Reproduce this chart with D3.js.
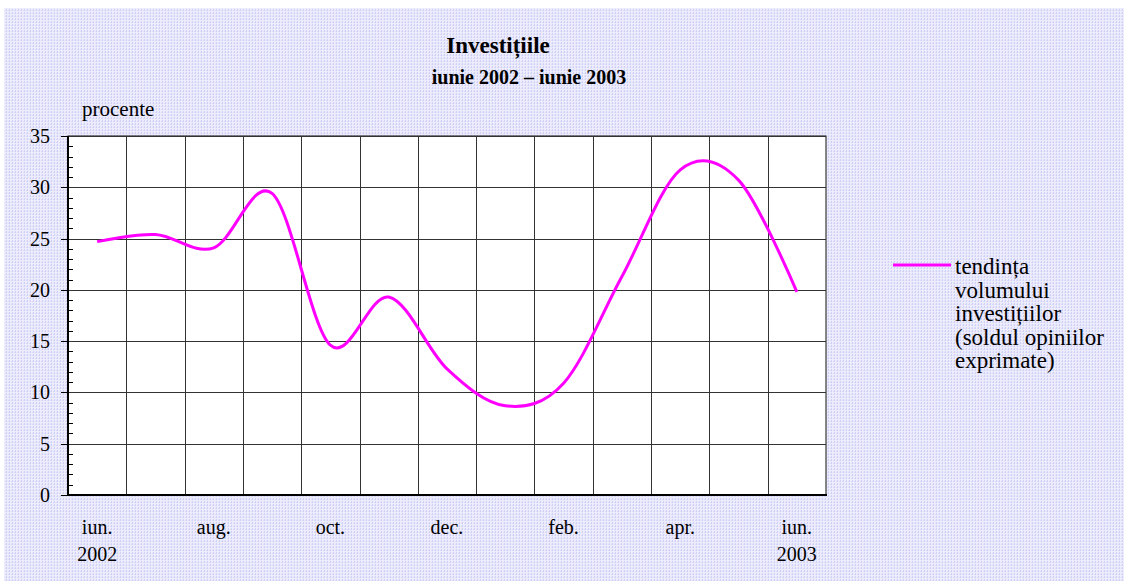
<!DOCTYPE html>
<html>
<head>
<meta charset="utf-8">
<script src="https://cdn.jsdelivr.net/npm/d3@7"></script>
<style>
  body { margin: 0; background: #fff; }
  svg { display: block; font-family: "Liberation Serif", "Times New Roman", serif; }
</style>
</head>
<body>
<script>
// data
const months = ["iun.", "iul.", "aug.", "sep.", "oct.", "nov.", "dec.", "ian.", "feb.", "mar.", "apr.", "mai", "iun."];
const years = ["2002", "", "", "", "", "", "", "", "", "", "", "", "2003"];
const values = [24.7, 25.4, 24.1, 29.4, 14.6, 19.3, 12.3, 8.7, 10.9, 21.3, 31.7, 30.7, 19.8];
const yTicks = [0, 5, 10, 15, 20, 25, 30, 35];
const legendLines = ["tendința", "volumului", "investițiilor", "(soldul opiniilor", "exprimate)"];
const labelEvery = 2;

const width = 1127;
const height = 584;

const pl = 68;
const pr = 826;
const pt = 136;
const pb = 495;
const fs = "20px";

const svg = d3.select("body").append("svg")
    .attr("width", width)
    .attr("height", height);

// dotted lavender background
const defs = svg.append("defs");
const pat = defs.append("pattern")
    .attr("id", "dots")
    .attr("width", 3)
    .attr("height", 3)
    .attr("patternUnits", "userSpaceOnUse");
pat.append("rect").attr("width", 3).attr("height", 3).attr("fill", "#ececfd");
pat.append("rect").attr("width", 1).attr("height", 2).attr("fill", "#cfd0f5");
pat.append("rect").attr("x", 2).attr("y", 1).attr("width", 1).attr("height", 1).attr("fill", "#dcdcf8");

svg.append("rect")
    .attr("x", 4).attr("y", 8)
    .attr("width", width - 7).attr("height", height - 11)
    .attr("fill", "url(#dots)");

const x = d3.scaleBand().domain(d3.range(months.length)).range([pl, pr]).padding(0);
const y = d3.scaleLinear().domain([0, 35]).range([pb, pt]);
const bw = x.bandwidth();

// plot area
svg.append("rect")
    .attr("x", pl).attr("y", pt)
    .attr("width", pr - pl).attr("height", pb - pt)
    .attr("fill", "#fff")
    .attr("stroke", "#111")
    .attr("stroke-width", 1);

// horizontal gridlines
svg.append("g")
    .selectAll("line")
    .data(yTicks.filter(d => d > 0))
    .join("line")
    .attr("x1", pl).attr("x2", pr)
    .attr("y1", d => Math.round(y(d)) + 0.5)
    .attr("y2", d => Math.round(y(d)) + 0.5)
    .attr("stroke", "#333");

// vertical gridlines at category boundaries
svg.append("g")
    .selectAll("line")
    .data(d3.range(1, months.length))
    .join("line")
    .attr("x1", d => Math.round(x(d)) + 0.5)
    .attr("x2", d => Math.round(x(d)) + 0.5)
    .attr("y1", pt).attr("y2", pb)
    .attr("stroke", "#333");

// y axis: major ticks outward, minor ticks inward
const yAxis = svg.append("g").attr("transform", `translate(${pl},0)`);
yAxis.selectAll("line.minor")
    .data(d3.range(0, 36).filter(d => d % 5 !== 0))
    .join("line")
    .attr("class", "minor")
    .attr("x1", 0).attr("x2", 5)
    .attr("y1", d => Math.round(y(d)) + 0.5)
    .attr("y2", d => Math.round(y(d)) + 0.5)
    .attr("stroke", "#000");
yAxis.selectAll("line.major")
    .data(yTicks)
    .join("line")
    .attr("class", "major")
    .attr("x1", -7).attr("x2", 0)
    .attr("y1", d => Math.round(y(d)) + 0.5)
    .attr("y2", d => Math.round(y(d)) + 0.5)
    .attr("stroke", "#000");
yAxis.selectAll("text")
    .data(yTicks)
    .join("text")
    .attr("x", -18)
    .attr("y", d => y(d))
    .attr("dy", "0.35em")
    .attr("text-anchor", "end")
    .style("font-size", fs)
    .text(d => d);
yAxis.append("line")
    .attr("x1", 0).attr("x2", 0)
    .attr("y1", pt).attr("y2", pb + 1)
    .attr("stroke", "#000")
    .attr("stroke-width", 2);

// x axis
svg.append("line")
    .attr("x1", pl - 1).attr("x2", pr + 1)
    .attr("y1", pb).attr("y2", pb)
    .attr("stroke", "#000")
    .attr("stroke-width", 2);

const xLab = svg.append("g")
    .selectAll("text")
    .data(d3.range(months.length).filter(i => i % labelEvery === 0))
    .join("text")
    .attr("text-anchor", "middle")
    .style("font-size", fs);
xLab.append("tspan")
    .attr("x", i => x(i) + bw / 2)
    .attr("y", 534)
    .text(i => months[i]);
xLab.append("tspan")
    .attr("x", i => x(i) + bw / 2)
    .attr("y", 561)
    .text(i => years[i]);

// series
const line = d3.line()
    .x((d, i) => x(i) + bw / 2)
    .y(d => y(d))
    .curve(d3.curveCatmullRom.alpha(0));

svg.append("path")
    .datum(values)
    .attr("d", line)
    .attr("fill", "none")
    .attr("stroke", "#ff00ff")
    .attr("stroke-width", 3);

// title
svg.append("text")
    .attr("x", 498).attr("y", 53)
    .attr("text-anchor", "middle")
    .style("font-size", "23px")
    .style("font-weight", "bold")
    .text("Investițiile");
svg.append("text")
    .attr("x", 529).attr("y", 84)
    .attr("text-anchor", "middle")
    .style("font-size", "20px")
    .style("font-weight", "bold")
    .text("iunie 2002 – iunie 2003");

svg.append("text")
    .attr("x", 82).attr("y", 116)
    .style("font-size", "21px")
    .text("procente");

// legend
svg.append("line")
    .attr("x1", 893).attr("x2", 951)
    .attr("y1", 265).attr("y2", 265)
    .attr("stroke", "#ff00ff")
    .attr("stroke-width", 3);
svg.append("text")
    .attr("y", 274)
    .style("font-size", "23px")
    .selectAll("tspan")
    .data(legendLines)
    .join("tspan")
    .attr("x", 955)
    .attr("dy", (d, i) => i ? 23.5 : 0)
    .text(d => d);
</script>
</body>
</html>
